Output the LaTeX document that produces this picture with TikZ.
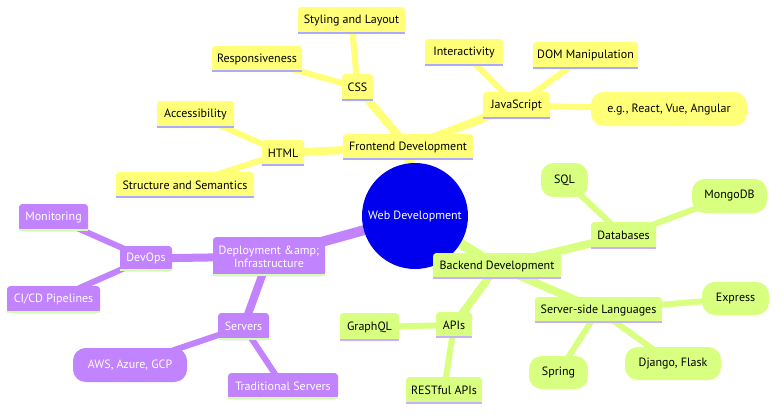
\documentclass[tikz,border=0pt]{standalone}
\usepackage{fontspec}
\setmainfont{PT Sans}
\usetikzlibrary{backgrounds}
\definecolor{yel}{HTML}{FFFF78}
\definecolor{yelul}{HTML}{AAAAFF}
\definecolor{pur}{HTML}{C283FF}
\definecolor{purul}{HTML}{D4FFB0}
\definecolor{grn}{HTML}{D9FF80}
\definecolor{grnul}{HTML}{C8B0FF}
\definecolor{rootblue}{HTML}{0000EE}
\newcommand\mmnode[7]{\node[#1, minimum width=#5*0.75pt, minimum height=#6*0.75pt] (#2) at (#3,#4) {#7};}
\tikzset{
  x=0.75pt, y=-0.75pt,
  every node/.style={font=\fontsize{9}{9.8}\selectfont, inner sep=0pt, align=center},
  rbox/.style={rectangle, rounded corners=2.5pt},
  pill/.style={rectangle, rounded corners=9.5pt},
  ysec/.style={fill=yel, text=black},
  psec/.style={fill=pur, text=white},
  gsec/.style={fill=grn, text=black},
  yul/.style={append after command={([yshift=0.75pt]\tikzlastnode.south west) edge[draw=yelul, line width=1.6pt] ([yshift=0.75pt]\tikzlastnode.south east)}},
  pul/.style={append after command={([yshift=0.75pt]\tikzlastnode.south west) edge[draw=purul, line width=1.6pt] ([yshift=0.75pt]\tikzlastnode.south east)}},
  gul/.style={append after command={([yshift=0.75pt]\tikzlastnode.south west) edge[draw=grnul, line width=1.6pt] ([yshift=0.75pt]\tikzlastnode.south east)}},
  ybox/.style={rbox, ysec, yul},
  pbox/.style={rbox, psec, pul},
  gbox/.style={rbox, gsec, gul},
  ypill/.style={pill, ysec},
  ppill/.style={pill, psec},
  gpill/.style={pill, gsec},
  e0/.style={line width=7.5pt},
  e1/.style={line width=6pt},
  e2/.style={line width=4.5pt},
}
\begin{document}
\begin{tikzpicture}
\useasboundingbox (0,0) rectangle (784,415);
% root
\node[circle, fill=rootblue, text=white, minimum size=106*0.75pt] (root) at (415,216) {Web Development};
% frontend
\mmnode{ybox}{fe}{408}{147}{130}{26}{Frontend Development}
\mmnode{ybox}{css}{357.5}{87.5}{31}{27}{CSS}
\mmnode{ybox}{stylay}{351.5}{20.5}{107}{27}{Styling and Layout}
\mmnode{ybox}{resp}{257}{59}{90}{26}{Responsiveness}
\mmnode{ybox}{html}{283}{153}{42}{26}{HTML}
\mmnode{ybox}{access}{195.5}{114.5}{77}{27}{Accessibility}
\mmnode{ybox}{structsem}{185}{185}{138}{26}{Structure and Semantics}
\mmnode{ybox}{js}{516.5}{105.5}{67}{27}{JavaScript}
\mmnode{ybox}{interact}{464}{52.5}{78}{27}{Interactivity}
\mmnode{ybox}{dom}{585.5}{55.5}{105}{27}{DOM Manipulation}
\mmnode{ypill}{react}{669}{109}{156}{34}{e.g., React, Vue, Angular}
% deployment
\mmnode{pbox}{deploy}{269}{256.5}{112}{39}{Deployment \&amp;\\Infrastructure}
\mmnode{pbox}{devops}{146}{258.5}{52}{25}{DevOps}
\mmnode{pbox}{monitor}{53.5}{217.5}{69}{27}{Monitoring}
\mmnode{pbox}{cicd}{53.5}{299.5}{93}{27}{CI/CD Pipelines}
\mmnode{pbox}{servers}{243.5}{326.5}{51}{27}{Servers}
\mmnode{ppill}{aws}{130}{365}{114}{34}{AWS, Azure, GCP}
\mmnode{pbox}{tradserv}{283}{386}{110}{26}{Traditional Servers}
% backend
\mmnode{gbox}{backend}{497}{266}{128}{26}{Backend Development}
\mmnode{gbox}{db}{623.5}{235.5}{65}{27}{Databases}
\mmnode{gpill}{sql}{564.5}{180}{47}{34}{SQL}
\mmnode{gpill}{mongo}{729.5}{196}{75}{34}{MongoDB}
\mmnode{gbox}{ssl}{598.5}{310}{127}{26}{Server-side Languages}
\mmnode{gpill}{express}{735.5}{298.5}{67}{33}{Express}
\mmnode{gpill}{django}{673}{363.5}{96}{33}{Django, Flask}
\mmnode{gpill}{spring}{558.5}{372.5}{59}{33}{Spring}
\mmnode{gbox}{apis}{454}{325}{36}{26}{APIs}
\mmnode{gbox}{graphql}{369.5}{327}{59}{28}{GraphQL}
\mmnode{gbox}{restful}{444}{390.5}{76}{27}{RESTful APIs}
% connectors
\begin{pgfonlayer}{background}
\draw[e0, yel] (root.center) -- (fe.center);
\draw[e0, pur] (root.center) -- (deploy.center);
\draw[e0, grn] (root.center) -- (backend.center);
\draw[e1, yel] (fe.center) -- (css.center);
\draw[e1, yel] (fe.center) -- (html.center);
\draw[e1, yel] (fe.center) -- (js.center);
\draw[e2, yel] (css.center) -- (stylay.center);
\draw[e2, yel] (css.center) -- (resp.center);
\draw[e2, yel] (html.center) -- (access.center);
\draw[e2, yel] (html.center) -- (structsem.center);
\draw[e2, yel] (js.center) -- (interact.center);
\draw[e2, yel] (js.center) -- (dom.center);
\draw[e2, yel] (js.center) -- (react.center);
\draw[e1, pur] (deploy.center) -- (devops.center);
\draw[e1, pur] (deploy.center) -- (servers.center);
\draw[e2, pur] (devops.center) -- (monitor.center);
\draw[e2, pur] (devops.center) -- (cicd.center);
\draw[e2, pur] (servers.center) -- (aws.center);
\draw[e2, pur] (servers.center) -- (tradserv.center);
\draw[e1, grn] (backend.center) -- (db.center);
\draw[e1, grn] (backend.center) -- (ssl.center);
\draw[e1, grn] (backend.center) -- (apis.center);
\draw[e2, grn] (db.center) -- (sql.center);
\draw[e2, grn] (db.center) -- (mongo.center);
\draw[e2, grn] (ssl.center) -- (express.center);
\draw[e2, grn] (ssl.center) -- (django.center);
\draw[e2, grn] (ssl.center) -- (spring.center);
\draw[e2, grn] (apis.center) -- (graphql.center);
\draw[e2, grn] (apis.center) -- (restful.center);
\end{pgfonlayer}
\end{tikzpicture}
\end{document}
